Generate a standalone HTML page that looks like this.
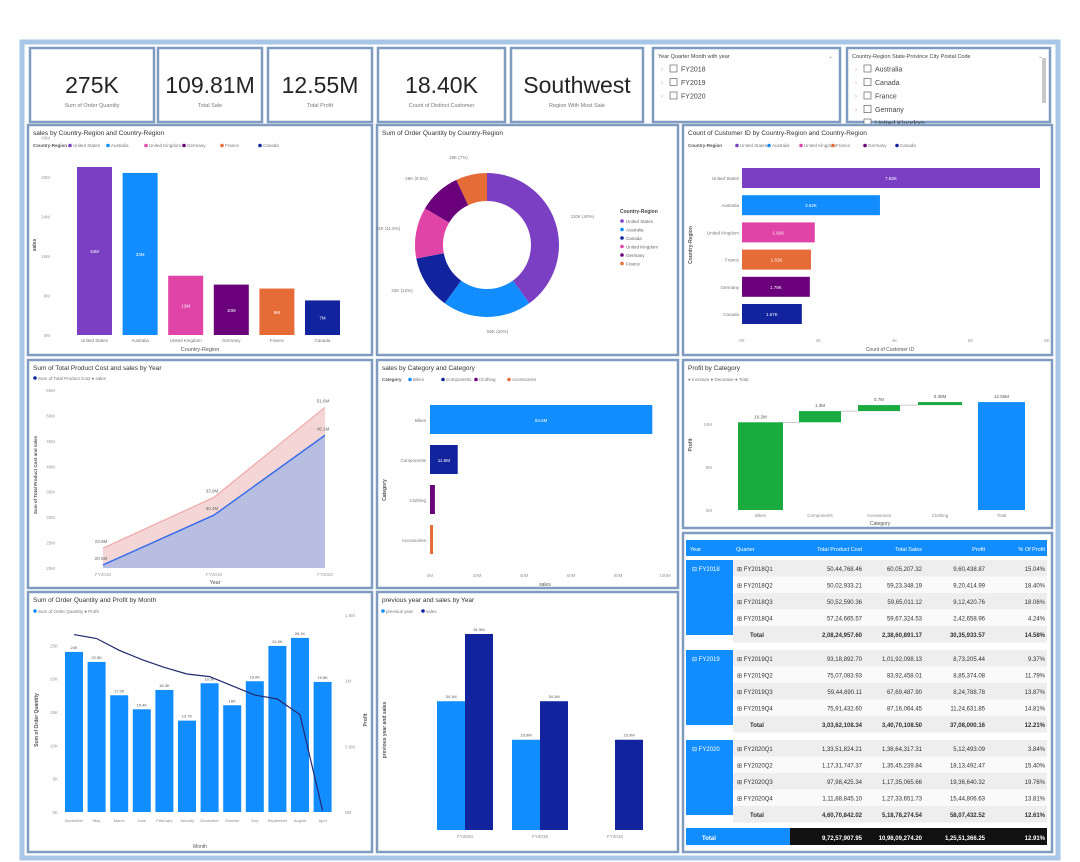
<!DOCTYPE html>
<html><head><meta charset="utf-8">
<style>
html,body{margin:0;padding:0;background:#fff;width:1080px;height:862px;overflow:hidden;font-family:"Liberation Sans",sans-serif;}
svg text{font-family:"Liberation Sans",sans-serif;}
</style></head>
<body>
<svg id="dash" width="1080" height="862" viewBox="0 0 1080 862" xmlns="http://www.w3.org/2000/svg"></svg>
<script>
// ---------- data ----------
const kpiValues = ["275K","109.81M","12.55M","18.40K","Southwest"];
const kpiLabels = ["Sum of Order Quantity","Total Sale","Total Profit","Count of Distinct Customer","Region With Most Sale"];
const countries = ["United States","Australia","United Kingdom","Germany","France","Canada"];
const salesByCountry = [34.0,32.8,12.0,10.2,9.4,7.0];
const salesLabels = ["34M","33M","12M","10M","9M","7M"];
const donutCountries = ["United States","Australia","Canada","United Kingdom","Germany","France"];
const donutValues = [40,20,12,11.5,9.5,7];
const custCountries = ["United States","Australia","United Kingdom","France","Germany","Canada"];
const custValues = [7.82,3.62,1.91,1.81,1.78,1.57];
const years = ["FY2018","FY2019","FY2020"];
const costByYear = [20.6,30.4,46.1];
const salesByYear = [23.9,33.9,51.6];
const areaTicks = ["20M","25M","30M","35M","40M","45M","50M","55M"];
const categories = ["Bikes","Components","Clothing","Accessories"];
const catSales = [94.6,11.8,2.1,1.3];
const catTicks = ["0M","20M","40M","60M","80M","100M"];
const wfCats = ["Bikes","Components","Accessories","Clothing","Total"];
const wfValues = [10.2,1.3,0.7,0.35];
const months = ["November","May","March","June","February","January","December","October","July","September","August","April"];
const monthQty = [24,22.5,17.5,15.4,18.3,13.7,19.3,16,19.6,24.9,26.1,19.5];
const monthProfit = [1.35,1.32,1.23,1.16,1.10,1.05,1.03,0.96,0.89,0.86,0.74,0.01];
const pyCats = ["FY2020","FY2019","FY2018"];
const prevYearSales = [34.1,23.9,null];
const curSales = [51.9,34.1,23.9];

const NS="http://www.w3.org/2000/svg";
const svg=document.getElementById('dash');
function mk(tag,attrs,parent){const e=document.createElementNS(NS,tag);for(const k in attrs)e.setAttribute(k,attrs[k]);(parent||svg).appendChild(e);return e;}
function tx(x,y,s,size,fill,anchor,weight,parent){const e=mk('text',{x:x,y:y,'font-size':size,fill:fill||'#444','text-anchor':anchor||'start','font-weight':weight||'normal'},parent);e.textContent=s;return e;}

// outer frame
let fr=mk('rect',{x:22,y:42,width:1036,height:816,fill:'#fff',stroke:'#a8c6e6','stroke-width':5});



function panel(x,y,w,h,name,title){
  const g=mk('g',{});
  
  
  mk('rect',{x:x,y:y,width:w,height:h,fill:'#fff',stroke:'#7f9cc0','stroke-width':2.5},g);
  if(title){const t=tx(x+5,y+10,title,6.5,'#333','start','normal',g);}
  return g;
}

// KPI cards
const kpiX=[[30,124],[158,104],[268,104],[378,127],[511,132]];
kpiX.forEach((k,i)=>{
  const g=panel(k[0],48,k[1],74,'kpi-card');
  const v=tx(k[0]+k[1]/2,93,kpiValues[i],23,'#252423','middle','normal',g);
  
  
  const l=tx(k[0]+k[1]/2,107,kpiLabels[i],5.5,'#777','middle','normal',g);
  
  
});

// slicers
function slicer(x,w,title,items,name){
  const g=panel(x,48,w,74,name);
  tx(x+5,58,title,5.5,'#444','start','normal',g);
  tx(x+w-12,58,'⌄',6,'#999','start','normal',g);
  items.forEach((s,i)=>{
    const y=66+i*13.5;
    const b=mk('rect',{x:x+17,y:y-1,width:7,height:7,fill:'#fff',stroke:'#666','stroke-width':0.7},g);
    
    
    tx(x+8,y+5,'›',6,'#aaa','start','normal',g);
    tx(x+28,y+5.5,s,7,'#444','start','normal',g);
  });
  return g;
}
slicer(653,187,'Year Quarter Month with year',['FY2018','FY2019','FY2020'],'year-slicer');
const sc=slicer(847,203,'Country-Region State-Province City Postal Code',['Australia','Canada','France','Germany','United Kingdom'],'country-slicer');
mk('rect',{x:1042,y:58,width:4,height:45,fill:'#c8c8c8'},sc);

// ---------- Chart 1: sales by country ----------
{
  const g=panel(28,125,344,230,'sales-by-country-chart','sales by Country-Region and Country-Region');
  const cols=['#7b3fc4','#118dff','#e044a7','#6b007b','#e66c37','#12239e'];
  tx(33,147,'Country-Region',4.5,'#555','start','bold',g);
  countries.forEach((c,i)=>{mk('circle',{cx:70+i*38,cy:145.5,r:1.8,fill:cols[i]},g);tx(73+i*38,147,c,4.5,'#777','start','normal',g);});
  const base=335,sc2=168/34, x0=77, step=45.6, bw=35;
  const y=v=>base-v*sc2;
  for(let t=0;t<=40;t+=8){tx(50,y(t)+2,t+'M',4.5,'#999','end','normal',g);}
  tx(36,245,'sales',5,'#555','middle','bold',g).setAttribute('transform','rotate(-90 36 245)');
  salesByCountry.forEach((v,i)=>{
    const r=mk('rect',{x:x0+i*step,y:y(v),width:bw,height:base-y(v),fill:cols[i]},g);
    
    
    tx(x0+i*step+bw/2,(y(v)+base)/2+2,salesLabels[i],4.5,'#fff','middle','normal',g);
    tx(x0+i*step+bw/2,342,countries[i],4.5,'#777','middle','normal',g);
  });
  tx(200,351,'Country-Region',5.5,'#555','middle','normal',g);
}

// ---------- Chart 2: donut ----------
{
  const g=panel(377,125,301,230,'order-quantity-donut-chart','Sum of Order Quantity by Country-Region');
  const cols=['#7b3fc4','#118dff','#12239e','#e044a7','#6b007b','#e66c37'];
  const cx=487,cy=245,R=72,r=44;
  const tot=donutValues.reduce((a,b)=>a+b,0);
  let a0=0;
  donutValues.forEach((v,i)=>{
    const a1=a0+v/tot*Math.PI*2;
    const p=(a,rr)=>[cx+rr*Math.sin(a),cy-rr*Math.cos(a)];
    const [x1,y1]=p(a0,R),[x2,y2]=p(a1,R),[x3,y3]=p(a1,r),[x4,y4]=p(a0,r);
    const lg=(a1-a0)>Math.PI?1:0;
    const s=mk('path',{d:`M${x1},${y1}A${R},${R} 0 ${lg} 1 ${x2},${y2}L${x3},${y3}A${r},${r} 0 ${lg} 0 ${x4},${y4}Z`,fill:cols[i]},g);
    
    
    const am=(a0+a1)/2;const [lx,ly]=p(am,R+16);
    tx(lx,ly,Math.round(v/tot*275)+'K ('+v+'%)',4.5,'#777',Math.sin(am)>0?'start':'end','normal',g);
    a0=a1;
  });
  tx(620,213,'Country-Region',5,'#444','start','bold',g);
  donutCountries.forEach((c,i)=>{mk('circle',{cx:622,cy:221+i*8.5,r:1.8,fill:cols[i]},g);tx(626,223+i*8.5,c,4.5,'#666','start','normal',g);});
}

// ---------- Chart 3: customers horizontal ----------
{
  const g=panel(683,125,369,230,'customer-count-chart','Count of Customer ID by Country-Region and Country-Region');
  const cols=['#7b3fc4','#118dff','#e044a7','#e66c37','#6b007b','#12239e'];
  tx(688,147,'Country-Region',4.5,'#555','start','bold',g);
  custCountries.forEach((c,i)=>{mk('circle',{cx:737+i*32,cy:145.5,r:1.8,fill:cols[i]},g);tx(740+i*32,147,c,4.5,'#777','start','normal',g);});
  const x0=742,scl=298/7.82;
  const X=v=>x0+v*scl;
  for(let t=0;t<=8;t+=2){tx(X(t),342,t+'K',4.5,'#999','middle','normal',g);}
  custValues.forEach((v,i)=>{
    const yy=168+i*27.2;
    const r=mk('rect',{x:x0,y:yy,width:X(v)-x0,height:20,fill:cols[i]},g);
    
    
    tx(x0-3,yy+12,custCountries[i],4.5,'#777','end','normal',g);
    tx((x0+X(v))/2,yy+12,v.toFixed(2)+'K',4.5,'#fff','middle','normal',g);
  });
  tx(890,351,'Count of Customer ID',5,'#555','middle','normal',g);
  tx(692,245,'Country-Region',5,'#555','middle','bold',g).setAttribute('transform','rotate(-90 692 245)');
}

// ---------- Chart 4: area ----------
{
  const g=panel(28,360,344,228,'cost-and-sales-area-chart','Sum of Total Product Cost and sales by Year');
  mk('circle',{cx:35,cy:378,r:1.8,fill:'#12239e'},g);tx(38,380,'Sum of Total Product Cost  ● sales',4.5,'#777','start','normal',g);
  const base=568,X=i=>103+i*111,Y=v=>base-(v-20)*(178/35);
  areaTicks.forEach((t,i)=>tx(55,Y(20+i*5)+2,t,4.5,'#999','end','normal',g));
  const ptsS=salesByYear.map((v,i)=>X(i)+','+Y(v)).join(' ');
  const ptsC=costByYear.map((v,i)=>X(i)+','+Y(v)).join(' ');
  const a1=mk('polygon',{points:`${X(0)},${base} ${ptsS} ${X(2)},${base}`,fill:'#f4d6d6'},g);
  
  
  const a2=mk('polygon',{points:`${X(0)},${base} ${ptsC} ${X(2)},${base}`,fill:'#b8bde2'},g);
  
  
  mk('polyline',{points:ptsS,fill:'none',stroke:'#f0a8a8','stroke-width':1.2},g);
  mk('polyline',{points:ptsC,fill:'none',stroke:'#3a6ee8','stroke-width':1.5},g);
  years.forEach((y,i)=>{tx(X(i),576,y,4.5,'#999','middle','normal',g);
    tx(X(i)-2,Y(salesByYear[i])-5,salesByYear[i]+'M',4.5,'#666','middle','normal',g);
    tx(X(i)-2,Y(costByYear[i])-5,costByYear[i]+'M',4.5,'#666','middle','normal',g);});
  tx(215,584,'Year',5.5,'#555','middle','normal',g);
  tx(37,475,'Sum of Total Product Cost and sales',4.5,'#555','middle','bold',g).setAttribute('transform','rotate(-90 37 475)');
}

// ---------- Chart 5: category ----------
{
  const g=panel(377,360,301,228,'sales-by-category-chart','sales by Category and Category');
  const cols=['#118dff','#12239e','#6b007b','#e66c37'];
  tx(382,381,'Category',4.5,'#555','start','bold',g);
  categories.forEach((c,i)=>{mk('circle',{cx:410+i*33,cy:379.5,r:1.8,fill:cols[i]},g);tx(413+i*33,381,c,4.5,'#777','start','normal',g);});
  const x0=430,X=v=>x0+v*2.35;
  catTicks.forEach((t,i)=>tx(X(i*20),577,t,4.5,'#999','middle','normal',g));
  catSales.forEach((v,i)=>{
    const yy=405+i*40;
    const r=mk('rect',{x:x0,y:yy,width:X(v)-x0,height:29,fill:cols[i]},g);
    
    
    tx(x0-4,yy+17,categories[i],4.5,'#777','end','normal',g);
    if(X(v)-x0>20)tx((x0+X(v))/2,yy+17,v+'M',4.5,'#fff','middle','normal',g);
  });
  tx(545,586,'sales',5,'#555','middle','normal',g);
  tx(386,490,'Category',5,'#555','middle','bold',g).setAttribute('transform','rotate(-90 386 490)');
}

// ---------- Chart 6: waterfall ----------
{
  const g=panel(683,360,369,168,'profit-waterfall-chart','Profit by Category');
  tx(688,381,'● Increase  ● Decrease  ● Total',4.5,'#777','start','normal',g);
  const base=510,sc6=8.6,Y=v=>base-v*sc6;
  const xs=[738,799,858,918,978],ws=[45,42,42,44,47];
  let cum=0;
  wfValues.forEach((v,i)=>{
    const r=mk('rect',{x:xs[i],y:Y(cum+v),width:ws[i],height:v*sc6,fill:'#1aab40'},g);
    
    
    tx(xs[i]+ws[i]/2,Y(cum+v)-4,v+'M',4.5,'#555','middle','normal',g);
    if(i<wfValues.length-1)mk('line',{x1:xs[i]+ws[i],y1:Y(cum+v),x2:xs[i+1],y2:Y(cum+v),stroke:'#999','stroke-width':0.5},g);
    cum+=v;
  });
  const t=mk('rect',{x:xs[4],y:Y(cum),width:ws[4],height:cum*sc6,fill:'#118dff'},g);
  
  
  tx(xs[4]+ws[4]/2,Y(cum)-4,cum.toFixed(2)+'M',4.5,'#555','middle','normal',g);
  wfCats.forEach((c,i)=>tx(xs[i]+ws[i]/2,517,c,4.5,'#888','middle','normal',g));
  [0,5,10].forEach(v=>tx(712,Y(v)+2,v+'M',4.5,'#999','end','normal',g));
  tx(880,525,'Category',5,'#555','middle','normal',g);
  tx(692,445,'Profit',5,'#555','middle','bold',g).setAttribute('transform','rotate(-90 692 445)');
}

// ---------- Chart 7: combo ----------
{
  const g=panel(28,592,344,260,'quantity-profit-by-month-chart','Sum of Order Quantity and Profit by Month');
  mk('circle',{cx:35,cy:611,r:1.8,fill:'#118dff'},g);tx(38,613,'Sum of Order Quantity  ● Profit',4.5,'#777','start','normal',g);
  const base=812,Y=v=>base-v*6.67,YP=v=>base-v*(184/1.4),step=22.6,x0=65,bw=18;
  [0,5,10,15,20,25].forEach(v=>tx(58,Y(v)+2,v+'K',4.5,'#999','end','normal',g));
  [0,0.5,1,1.5].forEach(v=>tx(345,YP(v)+2,v+'M',4.5,'#999','start','normal',g));
  monthQty.forEach((v,i)=>{
    const r=mk('rect',{x:x0+i*step,y:Y(v),width:bw,height:base-Y(v),fill:'#118dff'},g);
    
    
    tx(x0+i*step+bw/2,Y(v)-3,v+'K',4,'#555','middle','normal',g);
    tx(x0+i*step+bw/2,822,months[i],4,'#888','middle','normal',g);
  });
  const pl=mk('polyline',{points:monthProfit.map((v,i)=>(x0+i*step+bw/2)+','+YP(v)).join(' '),fill:'none',stroke:'#1f2a6e','stroke-width':1.2},g);
  
  
  tx(200,848,'Month',5,'#555','middle','normal',g);
  tx(38,720,'Sum of Order Quantity',5,'#555','middle','bold',g).setAttribute('transform','rotate(-90 38 720)');
  tx(367,720,'Profit',5,'#555','middle','bold',g).setAttribute('transform','rotate(-90 367 720)');
}

// ---------- Chart 8: prev year ----------
{
  const g=panel(377,592,301,260,'previous-year-sales-chart','previous year and sales by Year');
  mk('circle',{cx:383,cy:611,r:1.8,fill:'#118dff'},g);mk('circle',{cx:423,cy:611,r:1.8,fill:'#12239e'},g);
  tx(386,613,'previous year',4.5,'#777','start','normal',g);tx(426,613,'sales',4.5,'#777','start','normal',g);
  const base=830,sc8=196/51.9,Y=v=>base-v*sc8,gx=[437,512,587],bw=28;
  pyCats.forEach((c,i)=>{
    if(prevYearSales[i]!=null){const r=mk('rect',{x:gx[i],y:Y(prevYearSales[i]),width:bw,height:base-Y(prevYearSales[i]),fill:'#118dff'},g);
      
      
      tx(gx[i]+bw/2,Y(prevYearSales[i])-3,prevYearSales[i]+'M',4,'#555','middle','normal',g);}
    const r2=mk('rect',{x:gx[i]+bw,y:Y(curSales[i]),width:bw,height:base-Y(curSales[i]),fill:'#12239e'},g);
    
    
    tx(gx[i]+bw*1.5,Y(curSales[i])-3,curSales[i]+'M',4,'#555','middle','normal',g);
    tx(gx[i]+bw,838,c,4.5,'#888','middle','normal',g);
  });
  tx(386,730,'previous year and sales',5,'#555','middle','bold',g).setAttribute('transform','rotate(-90 386 730)');
}

// ---------- Table ----------
{
  const g=panel(683,533,369,319,'quarterly-matrix-table');
  const rows=[
   ["FY2018Q1","50,44,768.46","60,05,207.32","9,60,438.87","15.04%"],
   ["FY2018Q2","50,02,933.21","59,23,348.19","9,20,414.99","18.40%"],
   ["FY2018Q3","50,52,590.36","59,65,011.12","9,12,420.76","18.06%"],
   ["FY2018Q4","57,24,665.57","59,67,324.53","2,42,658.96","4.24%"],
   ["Total","2,08,24,957.60","2,38,60,891.17","30,35,933.57","14.58%"],
   ["FY2019Q1","93,18,892.70","1,01,92,098.13","8,73,205.44","9.37%"],
   ["FY2019Q2","75,07,083.93","83,92,458.01","8,85,374.08","11.79%"],
   ["FY2019Q3","59,44,690.11","67,69,487.90","8,24,788.78","13.87%"],
   ["FY2019Q4","75,91,432.60","87,16,064.45","11,24,631.85","14.81%"],
   ["Total","3,03,62,108.34","3,40,70,108.50","37,08,000.16","12.21%"],
   ["FY2020Q1","1,33,51,824.21","1,38,64,317.31","5,12,493.09","3.84%"],
   ["FY2020Q2","1,17,31,747.37","1,35,45,239.84","18,13,492.47","15.40%"],
   ["FY2020Q3","97,98,425.34","1,17,35,065.66","19,36,640.32","19.76%"],
   ["FY2020Q4","1,11,88,845.10","1,27,33,651.73","15,44,806.63","13.81%"],
   ["Total","4,60,70,842.02","5,18,78,274.54","58,07,432.52","12.61%"]];
  const h=mk('rect',{x:686,y:540,width:361,height:16,fill:'#118dff'},g);
  
  
  const cx=[862,922,985,1045];
  tx(690,551,'Year',5.5,'#fff','start','normal',g);tx(736,551,'Quarter',5.5,'#fff','start','normal',g);
  ['Total Product Cost','Total Sales','Profit','% Of Profit'].forEach((s,i)=>tx(cx[i],551,s,5.5,'#fff','end','normal',g));
  const blockY=[560,650,740];
  years.forEach((y,b)=>{
    const yb=blockY[b];
    const r=mk('rect',{x:686,y:yb,width:47,height:75,fill:'#118dff'},g);
    
    
    tx(692,yb+11,'⊟ '+y,6,'#fff','start','normal',g);
    for(let k=0;k<5;k++){
      const row=rows[b*5+k],ry=yb+k*16.5;
      mk('rect',{x:733,y:ry,width:314,height:16.5,fill:k%2==0?'#eeeeee':'#fafafa'},g);
      const tot=row[0]==='Total';
      tx(tot?750:737,ry+11,(tot?'':'⊞ ')+row[0],6,'#333','start',tot?'bold':'normal',g);
      for(let c=1;c<5;c++)tx(cx[c-1],ry+11,row[c],6,'#333','end',tot?'bold':'normal',g);
    }
  });
  const gt=mk('rect',{x:686,y:828,width:104,height:17,fill:'#118dff'},g);
  
  
  mk('rect',{x:790,y:828,width:257,height:17,fill:'#111'},g);
  tx(702,840,'Total',6,'#fff','start','bold',g);
  ['9,72,57,907.95','10,98,09,274.20','1,25,51,366.25','12.91%'].forEach((s,i)=>tx(cx[i],840,s,6,'#fff','end','bold',g));
}
</script>
</body></html>
